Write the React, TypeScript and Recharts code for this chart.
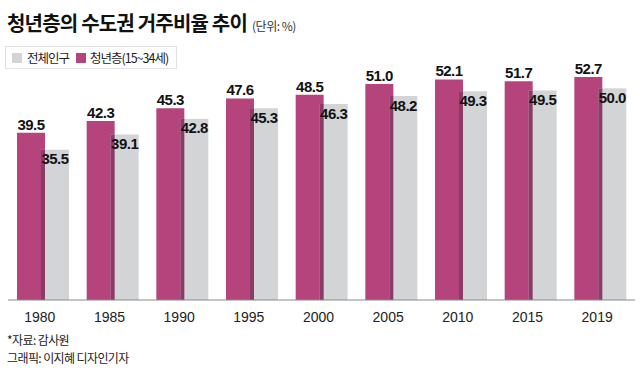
import { BarChart, Bar, XAxis, YAxis, LabelList } from "recharts";

const years = ["1980", "1985", "1990", "1995", "2000", "2005", "2010", "2015", "2019"];
const youthShare = [39.5, 42.3, 45.3, 47.6, 48.5, 51.0, 52.1, 51.7, 52.7];
const totalShare = [35.5, 39.1, 42.8, 45.3, 46.3, 48.2, 49.3, 49.5, 50.0];

const data = years.map((year, i) => ({
  year,
  youth: youthShare[i],
  total: totalShare[i],
}));

const MAGENTA = "#b5447c";
const GRAY = "#d3d4d6";
const OVERLAP = "#8b3b68";
const OVERLAP_W = 4;

const korean = '"Noto Sans CJK KR", "Noto Sans", sans-serif';
const numFont = '"Liberation Sans", Arial, sans-serif';

// gray bar with the darker strip where the magenta bar overlaps it
const GrayShape = (props: any) => {
  const { x, y, width, height } = props;
  return (
    <g>
      <rect x={x} y={y} width={width} height={height} fill={GRAY} />
      <rect x={x} y={y} width={OVERLAP_W} height={height} fill={OVERLAP} />
    </g>
  );
};

export default function App() {
  return (
    <div
      style={{
        position: "fixed",
        left: 0,
        top: 0,
        width: 640,
        height: 380,
        background: "#fff",
        overflow: "hidden",
      }}
    >
      <div
        style={{
          position: "absolute",
          left: 7,
          top: 11,
          fontFamily: korean,
          fontWeight: 700,
          fontSize: 20,
          letterSpacing: -0.8,
          color: "#111",
          whiteSpace: "nowrap",
          lineHeight: "24px",
        }}
      >
        청년층의 수도권 거주비율 추이
        <span
          style={{
            fontWeight: 400,
            fontSize: 12,
            letterSpacing: -0.5,
            color: "#333",
            marginLeft: 5,
          }}
        >
          (단위: %)
        </span>
      </div>

      <div
        style={{
          position: "absolute",
          left: 5,
          top: 46,
          width: 170,
          height: 21,
          border: "1px solid #e2e2e2",
          fontFamily: korean,
          fontSize: 12.5,
          letterSpacing: -1,
          color: "#222",
          display: "flex",
          alignItems: "center",
          whiteSpace: "nowrap",
        }}
      >
        <span style={{ width: 10, height: 10, background: GRAY, marginLeft: 6, marginRight: 5 }} />
        <span>전체인구</span>
        <span style={{ width: 10, height: 10, background: MAGENTA, marginLeft: 7, marginRight: 4 }} />
        <span>청년층(15~34세)</span>
      </div>

      <div style={{ position: "absolute", left: 0, top: 0 }}>
        <BarChart
          width={640}
          height={380}
          data={data}
          margin={{ top: 46, right: 5, bottom: 50, left: 8 }}
          barSize={28}
          barGap={-OVERLAP_W}
        >
          <XAxis
            dataKey="year"
            height={30}
            tickLine={false}
            axisLine={{ stroke: "#8a8a8a" }}
            tick={{ fontFamily: numFont, fontSize: 14, fill: "#222", dx: -3 }}
            tickMargin={6}
            interval={0}
          />
          <YAxis hide domain={[0, 60]} />
          <Bar dataKey="youth" fill={MAGENTA} isAnimationActive={false}>
            <LabelList
              dataKey="youth"
              position="top"
              offset={3}
              formatter={(v: any) => Number(v).toFixed(1)}
              style={{ fontFamily: numFont, fontWeight: 700, fontSize: 15, fill: "#111", letterSpacing: -0.5 }}
            />
          </Bar>
          <Bar dataKey="total" fill={GRAY} shape={GrayShape} isAnimationActive={false}>
            <LabelList
              dataKey="total"
              position="insideTop"
              offset={4}
              formatter={(v: any) => Number(v).toFixed(1)}
              style={{ fontFamily: numFont, fontWeight: 700, fontSize: 15, fill: "#111", letterSpacing: -0.5 }}
            />
          </Bar>
        </BarChart>
      </div>

      <div
        style={{
          position: "absolute",
          left: 7,
          top: 331,
          fontFamily: korean,
          fontSize: 12,
          letterSpacing: -0.6,
          color: "#222",
          lineHeight: "18px",
          whiteSpace: "nowrap",
        }}
      >
        <div>*자료: 감사원</div>
        <div>그래픽: 이지혜 디자인기자</div>
      </div>
    </div>
  );
}
